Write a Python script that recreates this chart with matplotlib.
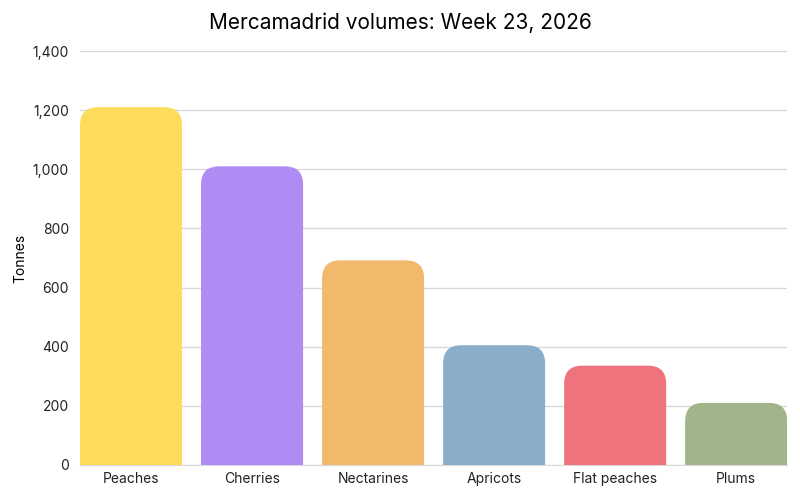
import matplotlib.pyplot as plt
from matplotlib.patches import FancyBboxPatch

plt.rcParams['font.family'] = ['Inter', 'DejaVu Sans']

fruits = ['Peaches', 'Cherries', 'Nectarines', 'Apricots', 'Flat peaches', 'Plums']
tonnes = [1210, 1010, 692, 405, 336, 210]
colors = ['#FDDC5C', '#AE8CF3', '#F2B86C', '#8AAECA', '#EE737D', '#A2B58A']

fig = plt.figure(figsize=[8, 5], dpi=100)
ax = fig.add_axes([0.1, 0.07, 0.884, 0.828])

width = 0.843
for i, (v, c) in enumerate(zip(tonnes, colors)):
    # rounded top corners; bottom part extends below 0 and is clipped away
    box = FancyBboxPatch((i - width / 2, -100), width, v + 100,
                         boxstyle='round,pad=0,rounding_size=0.15',
                         mutation_aspect=410, facecolor=c, edgecolor='none',
                         zorder=3)
    ax.add_patch(box)

ax.set_xlim(-width / 2, len(fruits) - 1 + width / 2)
ax.set_ylim(0, 1400)
ax.set_xticks(range(len(fruits)))
ax.set_xticklabels(fruits, fontsize=10)
ax.set_yticks(range(0, 1401, 200))
ax.set_yticklabels([f'{t:,}' for t in range(0, 1401, 200)], fontsize=10)
ax.tick_params(length=0, pad=8, colors='#222222')
ax.tick_params(axis='x', pad=5)
ax.yaxis.grid(True, color='#d9d9d9', linewidth=1)
ax.set_axisbelow(True)
for s in ['top', 'right', 'left']:
    ax.spines[s].set_visible(False)
ax.spines['bottom'].set_color('#d9d9d9')
ax.set_ylabel('Tonnes', fontsize=10, labelpad=4)
fig.suptitle('Mercamadrid volumes: Week 23, 2026', fontsize=15, y=0.975)

plt.savefig('out.png')
